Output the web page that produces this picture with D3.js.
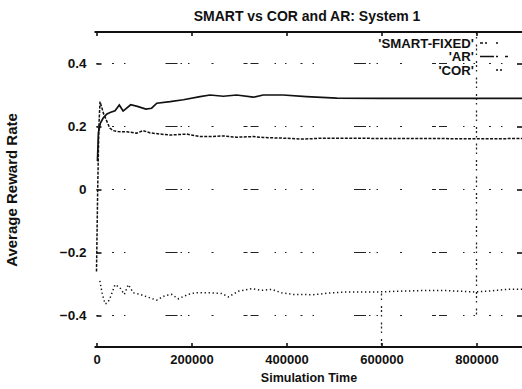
<!DOCTYPE html>
<html>
<head>
<meta charset="utf-8">
<script src="https://cdn.jsdelivr.net/npm/d3@7"></script>
<style>
body { margin: 0; background: #fff; }
text { font-family: "Liberation Sans", Arial, Helvetica, sans-serif; font-weight: bold; fill: #111; }
</style>
</head>
<body>
<svg id="chart" width="522" height="389"></svg>
<script>
const title = "SMART vs COR and AR: System 1";
const xLabel = "Simulation Time";
const yLabel = "Average Reward Rate";
const xTicks = [0, 200000, 400000, 600000, 800000];
const yTicks = [-0.4, -0.2, 0, 0.2, 0.4];

// [simulation time, average reward rate]
const smartFixed = [
  [2000, 0.09], [4000, 0.18], [8000, 0.21], [14000, 0.227], [22000, 0.24], [30000, 0.245],
  [39000, 0.25], [48000, 0.268], [56000, 0.249], [72000, 0.269], [86000, 0.264], [104000, 0.255],
  [116000, 0.258], [127000, 0.274], [155000, 0.279], [183000, 0.285], [218000, 0.295],
  [239000, 0.30], [267000, 0.296], [295000, 0.30], [330000, 0.293], [351000, 0.30],
  [393000, 0.30], [442000, 0.295], [506000, 0.29], [600000, 0.289], [700000, 0.289],
  [800000, 0.289], [900000, 0.289]
];
const ar = [
  [0, -0.26], [2500, 0.0], [5000, 0.2], [7400, 0.279], [15000, 0.24], [28000, 0.195],
  [35000, 0.187], [45000, 0.184], [64000, 0.183], [85000, 0.179], [98000, 0.187],
  [112000, 0.18], [134000, 0.176], [155000, 0.173], [190000, 0.176], [218000, 0.168],
  [240000, 0.168], [267000, 0.17], [295000, 0.166], [330000, 0.168], [351000, 0.165],
  [393000, 0.163], [435000, 0.16], [477000, 0.163], [520000, 0.163], [600000, 0.162],
  [700000, 0.162], [780000, 0.161], [830000, 0.161], [900000, 0.162]
];
const cor = [
  [7000, -0.29], [12000, -0.33], [18000, -0.363], [23000, -0.36], [28000, -0.347],
  [39000, -0.302], [49500, -0.312], [58500, -0.333], [67000, -0.302], [77500, -0.328],
  [91600, -0.333], [112600, -0.344], [126700, -0.351], [144200, -0.337], [158300, -0.333],
  [172200, -0.347], [193300, -0.333], [207400, -0.328], [242500, -0.328], [263600, -0.330],
  [277500, -0.341], [298500, -0.323], [326700, -0.315], [347800, -0.320], [368800, -0.317],
  [389900, -0.328], [414300, -0.333], [456400, -0.334], [494700, -0.328], [526700, -0.325],
  [561700, -0.325], [596800, -0.325], [632000, -0.323], [681000, -0.321], [737000, -0.321],
  [793300, -0.325], [821500, -0.323], [863600, -0.317], [900000, -0.317]
];
// faint vertical grid remnants visible in the scan
const vGrid = [
  {x: 600000, from: -0.5, to: -0.33},
  {x: 800000, from: -0.4, to: 0.5}
];

const series = [
  {name: "'SMART-FIXED'", data: smartFixed, dash: null, sample: "3,2,2,9,2,40"},
  {name: "'AR'", data: ar, dash: "3,1.4", sample: "14,2,2,7,3,30"},
  {name: "'COR'", data: cor, dash: "1.3,2.7", sample: "0,16,2,2,2,40"}
];

const margin = {top: 32, right: -2, bottom: 42, left: 96.5};
const width = 522, height = 389;
const svg = d3.select("#chart");

const x = d3.scaleLinear().domain([0, 900000]).range([margin.left, width - margin.right]);
const y = d3.scaleLinear().domain([-0.5, 0.5]).range([height - margin.bottom, margin.top]);

// grid
svg.append("g").selectAll("line").data(yTicks).enter().append("line")
  .attr("x1", x(0)).attr("x2", x(900000))
  .attr("y1", d => y(d)).attr("y2", d => y(d))
  .attr("stroke", "#222").attr("stroke-width", 1.2)
  .attr("stroke-dasharray", "1.5,14,2,10,1.5,40,12,3,1.5,6,1.5,22,2,30,4,3,8,16,1.5,9");
svg.append("g").selectAll("line").data(vGrid).enter().append("line")
  .attr("x1", d => x(d.x)).attr("x2", d => x(d.x))
  .attr("y1", d => y(d.to)).attr("y2", d => y(d.from))
  .attr("stroke", "#222").attr("stroke-width", 1.3)
  .attr("stroke-dasharray", "2,3,1.5,6,2,2");

// frame (top and bottom)
[0.5, -0.5].forEach(v => {
  svg.append("line")
    .attr("x1", x(0) - 2).attr("x2", width)
    .attr("y1", y(v)).attr("y2", y(v))
    .attr("stroke", "#111").attr("stroke-width", 1.8);
});

// axes
const xAxis = svg.append("g")
  .attr("transform", "translate(0," + y(-0.5) + ")")
  .call(d3.axisBottom(x).tickValues(xTicks).tickFormat(d3.format("d")).tickSizeInner(-4).tickSizeOuter(0).tickPadding(8));
const xTop = svg.append("g")
  .attr("transform", "translate(0," + y(0.5) + ")")
  .call(d3.axisTop(x).tickValues(xTicks).tickFormat("").tickSizeInner(-4).tickSizeOuter(0));
const yAxis = svg.append("g")
  .attr("transform", "translate(" + x(0) + ",0)")
  .call(d3.axisLeft(y).tickValues(yTicks).tickFormat(d => d === 0 ? "0" : d3.format(".1f")(d)).tickSizeInner(-5).tickSizeOuter(0).tickPadding(10));
const yRight = svg.append("g")
  .attr("transform", "translate(" + (width + 1) + ",0)")
  .call(d3.axisRight(y).tickValues(yTicks).tickFormat("").tickSizeInner(-6).tickSizeOuter(0));

[xAxis, xTop, yAxis, yRight].forEach(g => {
  g.select(".domain").remove();
  g.selectAll(".tick line").attr("stroke", "#111").attr("stroke-width", 1.6);
});
xAxis.selectAll("text").style("font-size", "13px").attr("fill", "#111");
yAxis.selectAll("text").style("font-size", "13.5px").attr("fill", "#111");

// curves
const line = d3.line().x(d => x(d[0])).y(d => y(d[1]));
series.forEach(s => {
  svg.append("path").datum(s.data)
    .attr("d", line)
    .attr("fill", "none")
    .attr("stroke", "#111")
    .attr("stroke-width", s.dash ? 1.5 : 1.7)
    .attr("stroke-dasharray", s.dash);
});

// legend
const legend = svg.append("g");
series.forEach((s, i) => {
  const ly = 43 + i * 13.5;
  legend.append("text")
    .attr("x", 474).attr("y", ly).attr("dy", "0.35em")
    .attr("text-anchor", "end")
    .style("font-size", "13.2px")
    .text(s.name);
  legend.append("line")
    .attr("x1", 480).attr("x2", 522)
    .attr("y1", ly).attr("y2", ly)
    .attr("stroke", "#111").attr("stroke-width", 1.4)
    .attr("stroke-dasharray", s.sample);
});

// titles
svg.append("text")
  .attr("x", 307).attr("y", 21)
  .attr("text-anchor", "middle")
  .style("font-size", "14px")
  .text(title);
svg.append("text")
  .attr("x", 309).attr("y", 382)
  .attr("text-anchor", "middle")
  .style("font-size", "12.5px")
  .text(xLabel);
svg.append("text")
  .attr("transform", "translate(17,190) rotate(-90)")
  .attr("text-anchor", "middle")
  .style("font-size", "15px")
  .text(yLabel);
</script>
</body>
</html>
